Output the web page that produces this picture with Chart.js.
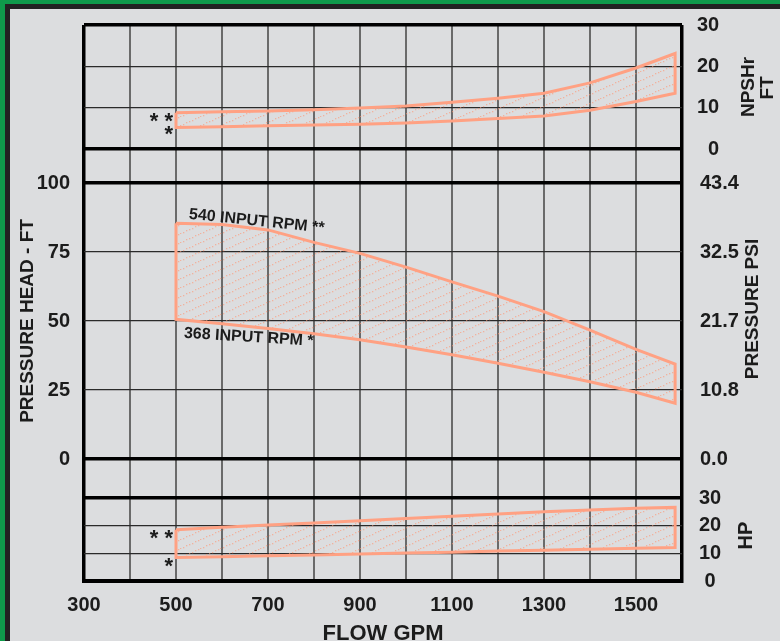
<!DOCTYPE html>
<html>
<head>
<meta charset="utf-8">
<script src="https://cdn.jsdelivr.net/npm/chart.js"></script>
<style>
  html, body { margin: 0; padding: 0; }
  body { width: 780px; height: 641px; background: #0f9a4b; position: relative; overflow: hidden; }
  #panel {
    position: absolute; left: 5px; top: 4px; right: 0; bottom: 0;
    background: #dcdddf; border-left: 5px solid #222; border-top: 5px solid #222;
  }
  #chart { position: absolute; left: 0; top: 0; }
</style>
</head>
<body>
<div id="panel"></div>
<canvas id="chart" width="780" height="641"></canvas>
<script>
const flowGpm = [500, 600, 700, 800, 900, 1000, 1100, 1200, 1300, 1400, 1500, 1585];

const npshHigh = [8.8, 9.0, 9.2, 9.5, 9.9, 10.4, 11.3, 12.3, 13.5, 16.0, 19.6, 23.1];
const npshLow = [5.2, 5.4, 5.6, 5.8, 6.0, 6.3, 6.8, 7.4, 8.0, 9.4, 11.5, 13.5];

const headHigh = [85.4, 85.0, 83.0, 78.5, 74.5, 69.5, 64.2, 59.0, 53.4, 46.7, 39.7, 34.4];
const headLow = [50.6, 49.0, 47.3, 45.4, 43.2, 40.6, 37.8, 34.7, 31.4, 28.0, 24.2, 20.2];

const hpHigh = [18.5, 19.4, 20.2, 21.0, 21.8, 22.6, 23.4, 24.2, 25.0, 25.7, 26.3, 26.6];
const hpLow = [8.5, 8.8, 9.1, 9.4, 9.8, 10.1, 10.4, 10.8, 11.1, 11.5, 11.8, 12.1];

const flowGrid = [300, 400, 500, 600, 700, 800, 900, 1000, 1100, 1200, 1300, 1400, 1500, 1600];
const flowTicks = [300, 500, 700, 900, 1100, 1300, 1500];
const npshTicks = [0, 10, 20, 30];
const headTicks = [0, 25, 50, 75, 100];
const psiTicks = [0.0, 10.8, 21.7, 32.5, 43.4];
const hpTicks = [0, 10, 20, 30];

const FONT = "'Liberation Sans', Arial, Helvetica, sans-serif";
const INK = "#1c1c1c";
const CURVE = "#ffa183";

Chart.defaults.font.family = FONT;
Chart.defaults.font.weight = "bold";
Chart.defaults.color = INK;

function hatch() {
  const c = document.createElement("canvas");
  c.width = 20;
  c.height = 9;
  const g = c.getContext("2d");
  g.fillStyle = "rgba(255, 150, 115, 0.6)";
  for (let x = 0; x < 20; x += 3) {
    g.fillRect(x, 8 - Math.round((x * 9) / 20), 1.3, 1.3);
  }
  return g.createPattern(c, "repeat");
}

function band(upper, lower) {
  const pts = flowGpm.map((x, i) => ({ x: x, y: upper[i] }));
  for (let i = flowGpm.length - 1; i >= 0; i--) {
    pts.push({ x: flowGpm[i], y: lower[i] });
  }
  pts.push({ x: flowGpm[0], y: upper[0] });
  return pts;
}

const pattern = hatch();

function bandSet(upper, lower, axis) {
  return {
    data: band(upper, lower),
    yAxisID: axis,
    borderColor: CURVE,
    borderWidth: 3,
    borderJoinStyle: "miter",
    backgroundColor: pattern,
    fill: "shape",
    pointRadius: 0,
    tension: 0,
  };
}

function setTicks(list) {
  return (scale) => {
    scale.ticks = list.map((v) => ({ value: v }));
  };
}

function yGrid(edges) {
  return {
    drawTicks: false,
    color: (c) => (edges.includes(c.tick.value) ? "#000" : "#2a2a2a"),
    lineWidth: (c) => (edges.includes(c.tick.value) ? 3.5 : 1.2),
  };
}

const xTickFont = { size: 20, weight: "bold" };
// small lineHeight keeps the label padding from pushing the plot area down
const yTickFont = { size: 20, weight: "bold", lineHeight: 0.5 };

// labels drawn on top of the bands and the right-hand titles
const textMarks = {
  id: "textMarks",
  afterDatasetsDraw(chart) {
    const { ctx, scales, chartArea } = chart;
    const x500 = scales.x.getPixelForValue(flowGpm[0]);

    function put(text, x, y, size, rot, align) {
      ctx.save();
      ctx.translate(x, y);
      ctx.rotate((rot * Math.PI) / 180);
      ctx.font = "bold " + size + "px " + FONT;
      ctx.fillStyle = INK;
      ctx.textAlign = align;
      ctx.textBaseline = "middle";
      ctx.fillText(text, 0, 0);
      ctx.restore();
    }

    function star(text, axis, value, dy) {
      ctx.save();
      ctx.font = "bold 22px " + FONT;
      ctx.fillStyle = INK;
      ctx.textAlign = "right";
      ctx.textBaseline = "alphabetic";
      ctx.fillText(text, x500 - 3, scales[axis].getPixelForValue(value) + dy + 12.5);
      ctx.restore();
    }

    put("540 INPUT RPM **", x500 + 13, scales.yHead.getPixelForValue(headHigh[0]) - 9, 16, 5.9, "left");
    put("368 INPUT RPM *", x500 + 8, scales.yHead.getPixelForValue(headLow[0]) + 14, 16, 3.5, "left");

    star("* *", "yN", npshHigh[0], 3);
    star("*", "yN", npshLow[0], 0.5);
    star("* *", "yHP", hpHigh[0], 2.5);
    star("*", "yHP", hpLow[0], 3);

    const right = chartArea.right;
    const mid = (s) => (s.top + s.bottom) / 2;
    put("NPSHr", right + 67, mid(scales.yN), 19, -90, "center");
    put("FT", right + 86, mid(scales.yN) + 1, 19, -90, "center");
    put("PRESSURE PSI", right + 71, mid(scales.yPsi) - 12, 19, -90, "center");
    put("HP", right + 64, mid(scales.yHP) - 4, 20, -90, "center");
  },
};

const ctx = document.getElementById("chart");

const pumpChart = new Chart(ctx, {
  type: "line",
  data: {
    datasets: [
      bandSet(npshHigh, npshLow, "yN"),
      bandSet(headHigh, headLow, "yHead"),
      bandSet(hpHigh, hpLow, "yHP"),
    ],
  },
  options: {
    responsive: false,
    animation: false,
    layout: { padding: { top: 25, left: 0, right: 0, bottom: 0 } },
    plugins: {
      legend: { display: false },
      tooltip: { enabled: false },
    },
    scales: {
      x: {
        type: "linear",
        position: "bottom",
        min: 300,
        max: 1600,
        afterBuildTicks: setTicks(flowGrid),
        afterFit: (s) => {
          s.height = 60;
        },
        ticks: {
          autoSkip: false,
          maxRotation: 0,
          padding: 12,
          font: xTickFont,
          color: INK,
          callback: (v) => (flowTicks.includes(v) ? String(v) : ""),
        },
        grid: {
          drawTicks: false,
          color: (c) => (c.tick.value === 300 || c.tick.value === 1600 ? "#000" : "#6a6a6a"),
          lineWidth: (c) => (c.tick.value === 300 || c.tick.value === 1600 ? 3.5 : 2),
        },
        border: { color: "#000", width: 4 },
        title: {
          display: true,
          text: "FLOW GPM",
          color: INK,
          font: { size: 22, weight: "bold", lineHeight: 0.6 },
          padding: 0,
        },
      },
      yN: {
        type: "linear",
        position: "right",
        stack: "R",
        stackWeight: 124,
        weight: 1,
        min: 0,
        max: 30,
        afterBuildTicks: setTicks(npshTicks),
        afterFit: (s) => {
          s.width = 98;
        },
        ticks: {
          autoSkip: false,
          crossAlign: "near",
          padding: 15,
          font: yTickFont,
          color: INK,
          callback: (v) => (v < 10 ? "  " + v : String(v)),
        },
        grid: yGrid([0, 30]),
        border: { display: false },
      },
      gapR1: {
        type: "linear",
        position: "right",
        stack: "R",
        stackWeight: 34,
        weight: 2,
        display: false,
      },
      yPsi: {
        type: "linear",
        position: "right",
        stack: "R",
        stackWeight: 276,
        weight: 3,
        min: 0,
        max: 43.4,
        afterBuildTicks: setTicks(psiTicks),
        afterFit: (s) => {
          s.width = 98;
        },
        ticks: {
          autoSkip: false,
          crossAlign: "near",
          padding: 18,
          font: yTickFont,
          color: INK,
          callback: (v) => v.toFixed(1),
        },
        grid: { display: false, drawTicks: false },
        border: { display: false },
      },
      gapR2: {
        type: "linear",
        position: "right",
        stack: "R",
        stackWeight: 39,
        weight: 4,
        display: false,
      },
      yHP: {
        type: "linear",
        position: "right",
        stack: "R",
        stackWeight: 83,
        weight: 5,
        min: 0,
        max: 30,
        afterBuildTicks: setTicks(hpTicks),
        afterFit: (s) => {
          s.width = 98;
        },
        ticks: { autoSkip: false, crossAlign: "center", padding: 17, font: yTickFont, color: INK },
        grid: yGrid([0, 30]),
        border: { display: false },
      },
      gapL1: {
        type: "linear",
        position: "left",
        stack: "L",
        stackWeight: 158,
        weight: 3,
        display: false,
      },
      yHead: {
        type: "linear",
        position: "left",
        stack: "L",
        stackWeight: 276,
        weight: 2,
        min: 0,
        max: 100,
        afterBuildTicks: setTicks(headTicks),
        afterFit: (s) => {
          s.width = 84;
        },
        ticks: { autoSkip: false, padding: 14, font: yTickFont, color: INK },
        grid: yGrid([0, 100]),
        border: { display: false },
        title: {
          display: true,
          text: "PRESSURE HEAD - FT",
          color: INK,
          font: { size: 19, weight: "bold", lineHeight: 1.2 },
          padding: { top: 16, bottom: 0 },
        },
      },
      gapL2: {
        type: "linear",
        position: "left",
        stack: "L",
        stackWeight: 122,
        weight: 1,
        display: false,
      },
    },
  },
  plugins: [textMarks],
});
</script>
</body>
</html>
